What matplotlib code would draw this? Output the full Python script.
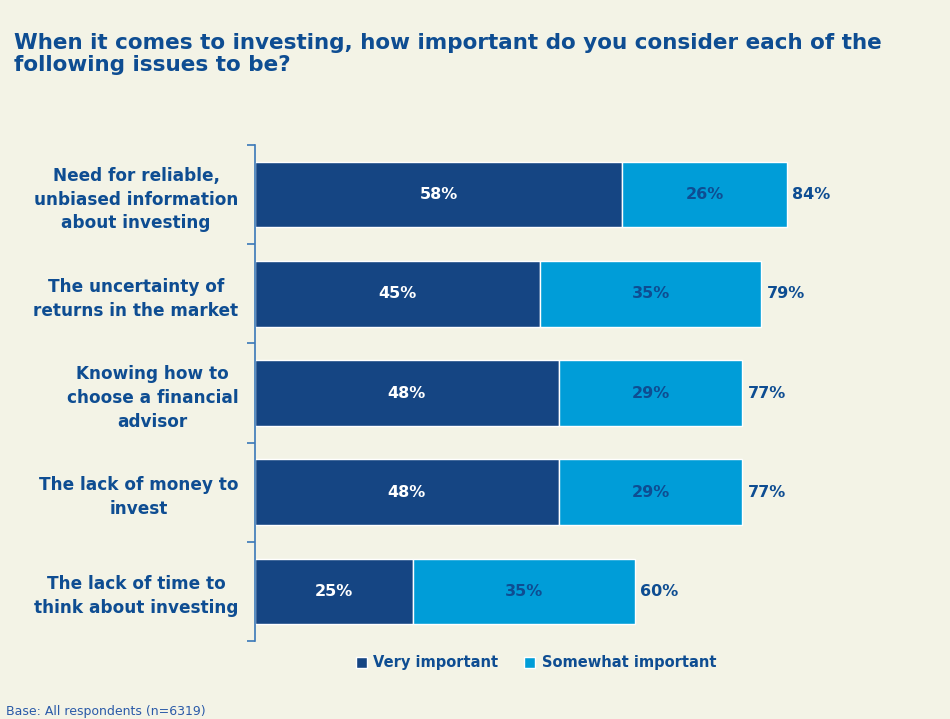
import matplotlib
matplotlib.use("Agg")
import matplotlib.pyplot as plt
import numpy as np

# --- data ---
categories = [
    "Need for reliable,\nunbiased information\nabout investing",
    "The uncertainty of\nreturns in the market",
    "Knowing how to\nchoose a financial\nadvisor",
    "The lack of money to\ninvest",
    "The lack of time to\nthink about investing",
]
very_important = [58, 45, 48, 48, 25]
somewhat_important = [26, 35, 29, 29, 35]
totals = [84, 79, 77, 77, 60]
series_names = ["Very important", "Somewhat important"]

BG = "#F3F3E6"
DARK = "#154583"
LIGHT = "#009DD8"
TEXT = "#0E4D92"

plt.rcParams["font.family"] = ["DejaVu Sans"]

fig = plt.figure(figsize=(9.5, 7.19), dpi=100, facecolor=BG)
ax = fig.add_axes([255 / 950, 1 - 641 / 719, 633 / 950, 496 / 719])
ax.set_facecolor(BG)

y = np.arange(len(categories))
h = 0.66
b1 = ax.barh(y, very_important, height=h, color=DARK, edgecolor="white", linewidth=1,
             label=series_names[0])
b2 = ax.barh(y, somewhat_important, left=very_important, height=h, color=LIGHT,
             edgecolor="white", linewidth=1, label=series_names[1])

for i in range(len(categories)):
    end = very_important[i] + somewhat_important[i]
    ax.text(very_important[i] / 2, y[i], f"{very_important[i]}%", ha="center", va="center",
            color="white", fontsize=11.5, fontweight="bold")
    ax.text(very_important[i] + somewhat_important[i] / 2, y[i], f"{somewhat_important[i]}%",
            ha="center", va="center", color=TEXT, fontsize=11.5, fontweight="bold")
    ax.text(end + 0.8, y[i], f"{totals[i]}%", ha="left", va="center",
            color=TEXT, fontsize=11.5, fontweight="bold")

ax.set_xlim(0, 100)
ax.set_ylim(len(categories) - 0.5, -0.5)
ax.set_xticks([])
ax.set_yticks(np.arange(len(categories) + 1) - 0.5, minor=False)
ax.set_yticklabels([])
ax.set_yticks(y, minor=True)
ax.set_yticklabels(categories, minor=True)
ax.tick_params(axis="y", which="major", length=6, color="#3A78B8", width=1.2)
ax.tick_params(axis="y", which="minor", length=0, pad=12)
for lab in ax.get_yticklabels(minor=True):
    lab.set_fontsize(12.2)
    lab.set_fontweight("bold")
    lab.set_color(TEXT)
    lab.set_multialignment("center")
    lab.set_linespacing(1.42)
for s in ["top", "right", "bottom"]:
    ax.spines[s].set_visible(False)
ax.spines["left"].set_color("#3A78B8")
ax.spines["left"].set_linewidth(1.2)

fig.text(14 / 950, 1 - 33 / 719,
         "When it comes to investing, how important do you consider each of the\nfollowing issues to be?",
         ha="left", va="top", fontsize=15.5, fontweight="bold", color=TEXT, linespacing=1.15)

leg = fig.legend(handles=[b1, b2], loc="center", bbox_to_anchor=(536 / 950, 1 - 663 / 719),
                 ncol=2, frameon=False, handlelength=0.75, handleheight=0.75,
                 handletextpad=0.45, columnspacing=1.8,
                 prop={"size": 10.5, "weight": "bold"})
for t in leg.get_texts():
    t.set_color(TEXT)

fig.text(6 / 950, 1 - 711 / 719, "Base: All respondents (n=6319)", ha="left", va="center",
         fontsize=9, color="#2A5AA8")

fig.savefig("out.png", dpi=100, facecolor=BG)
